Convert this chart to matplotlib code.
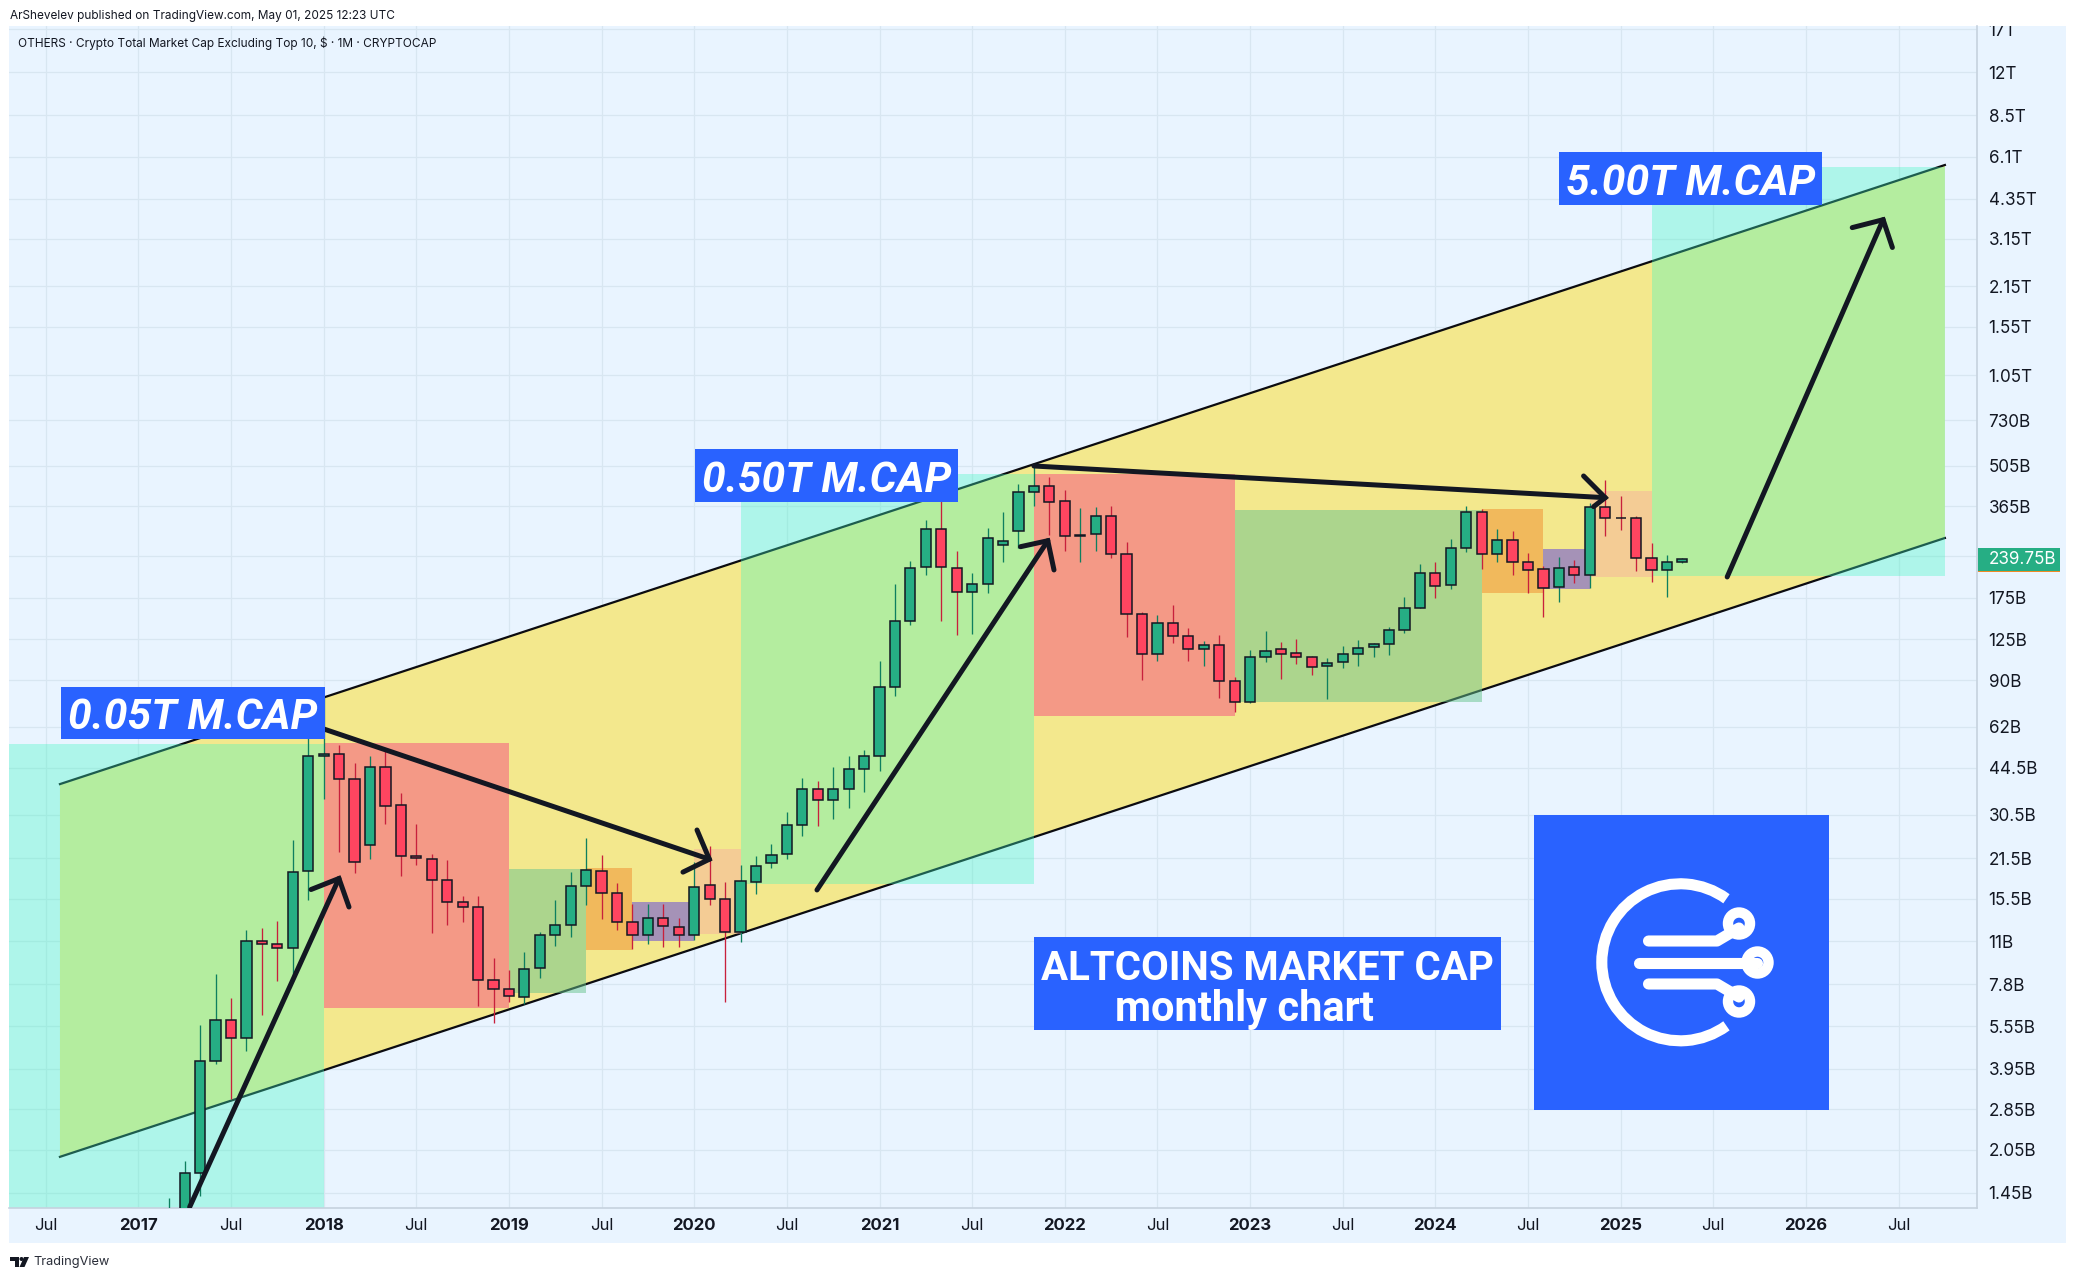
import numpy as np
import matplotlib
matplotlib.use("Agg")
import matplotlib.pyplot as plt
from matplotlib.patches import Rectangle, Arc, Circle, Polygon
from matplotlib.ticker import NullLocator, FixedLocator, FixedFormatter
from matplotlib.transforms import Bbox

# ---------- data (market cap in billions of USD, month index 0 = Jan 2017) ----------
first_month = 2
opens = [1.10,1.27,1.70,4.2,5.83,5.05,11.0,10.8,10.4,19.3,48.8,49.5,40.6,23.8,44.6,32.9,21.9,21.3,18.0,15.1,14.5,8.05,7.47,7.03,8.85,11.6,12.5,17.2,19.3,16.2,12.8,11.6,13.3,12.3,11.6,
         17.3,15.46,11.85,17.8,20.6,22.2,27.97,37.6,34.3,37.4,43.9,48.8,85.05,144.6,223.3,303.3,221.5,182.6,194.8,266.6,298.4,408.4,428.7,380,286.6,291.3,336.8,248,153,111.6,142.3,129,115.4,119.2,89.3,75.3,108.2,115.4,112.5,108.2,100.9,104.2,111.6,117.3,120.1,135.3,160.5,212.8,193.9,260.2,347.7,248,277.5,232.7,219.8,190.2,223.3,209.4,362,332.7,331.8,240.1,218,232.7]
closes = [1.27,1.70,4.2,5.83,5.05,11.0,10.8,10.4,19.2,48.8,49.5,40.6,20.8,44.6,32.7,21.9,21.5,18.0,15.1,14.5,8.05,7.5,7.08,8.77,11.6,12.5,17.2,19.5,16.2,12.8,11.6,13.3,12.4,11.6,17.0,
          15.46,11.85,17.86,20.2,22.0,28.05,37.4,34.3,37.4,44.2,48.8,85.05,144.6,221.5,303.3,223.3,182.6,194.8,282,275,408.4,428.7,376.9,286.6,290.5,336.8,248,153,110.8,142.3,128.1,115.4,119.2,89.3,75.3,108.2,114.3,111.6,108.2,99.96,103.4,111.6,116.4,120.1,135.3,160.5,212.8,191.6,260.2,347.7,248,277.5,232.7,218,188.7,221.5,209.4,362,332.7,331.8,240.1,218,232.7,239.75]
highs = [1.39,1.87,5.62,8.46,6.98,12.0,12.2,13.0,24.9,57.7,78.5,53.5,46.1,48.9,51.9,36.3,28.3,22.2,21.2,15.9,15.9,9.62,8.75,10.1,11.9,15.4,19.2,25.3,22.1,17.6,14.9,14.9,14.9,13.3,20.9,
         23.7,17.7,20.4,21.9,24.0,31.1,40.8,39.95,44.7,48.8,51.2,105,195.3,235.7,327,421.9,254.7,212.8,306.5,348.7,436.8,504.9,460.9,416.3,360,362,366,273.9,155.4,152,164.9,137.2,123.4,129.7,92.4,114.6,134.2,122.4,125,109.5,107.8,118.5,124.4,121.4,138.6,175.4,229.4,233,280.6,366,356.3,304.1,299.7,250.5,225.5,243.5,237.6,373.8,451,395.7,339,271.6,246.3,240.5]
lows = [1.05,1.2,1.42,4.08,3.09,4.54,6.08,8.0,8.33,15.4,34.5,22.6,19.1,21.3,28.3,18.6,20.4,11.8,12.5,12.8,6.55,5.72,6.76,6.65,8.2,10.6,11.4,14.7,13.2,12.0,10.3,10.8,10.5,10.5,11.1,
        14.77,6.75,10.96,16.1,19.8,21.4,25.7,27.9,29.5,32.3,36.6,43.3,79.3,140.4,210,145,129.7,130.5,181.6,233.8,261,367,289.7,254.7,233.8,254.7,241.4,127.4,90.2,105,121.7,105.3,100.9,78.3,69.7,74.8,104,91,102.8,93.9,77.5,99.5,100.9,108.5,110.6,132,160.5,174.8,188,252.5,221,233.8,210.5,181,150,169.3,196.6,189.7,288,301.8,217,199,176,231.9]
last_price = 239.75

# channel (month index, value in $B)
channel_start_month, channel_end_month = -5.08, 117
upper_channel = [39.0, 5698]
lower_channel = [1.94, 282.8]

# zones: month_from, month_to, low, high
teal_zones = [(-9, 12, 1.0, 54.0), (39, 58, 17.5, 473.5), (98, 117, 208.7, 5620)]
red_zones = [(12, 24, 6.43, 54.3), (58, 71, 67.6, 473.5)]
green_zones = [(24, 29, 7.28, 19.7), (71, 87, 75.7, 354.4)]
orange_zones = [(29, 32, 10.27, 19.9), (87, 91, 181.7, 357)]
purple_zones = [(32, 36, 11.05, 15.1), (91, 94, 188, 259)]
peach_zones = [(36, 39, 11.7, 23.1), (94, 98, 207, 413)]

# arrows: shaft start, tip, head end 1, head end 2 as (month, value)
arrows = [
    [(3.32, 1.295), (12.99, 18.24), (11.18, 16.69), (13.64, 14.5)],
    [(12.0, 60.8), (36.98, 21.3), (36.18, 26.95), (35.27, 19.2)],
    [(43.95, 16.63), (58.9, 276.7), (57.13, 263.7), (59.3, 218.7)],
    [(58.0, 505), (95.0, 391.3), (93.6, 466), (94.25, 364)],
    [(102.9, 206.7), (113.0, 3668), (111.0, 3442), (113.6, 2933)],
]

y_tick_values = [17000,12000,8500,6100,4350,3150,2150,1550,1050,730,505,365,245,175,125,90,62,44.5,30.5,21.5,15.5,11,7.8,5.55,3.95,2.85,2.05,1.45]
y_tick_labels = ['17T','12T','8.5T','6.1T','4.35T','3.15T','2.15T','1.55T','1.05T','730B','505B','365B','','175B','125B','90B','62B','44.5B','30.5B','21.5B','15.5B','11B','7.8B','5.55B','3.95B','2.85B','2.05B','1.45B']
x_tick_months = [-6,0,6,12,18,24,30,36,42,48,54,60,66,72,78,84,90,96,102,108,114]
x_tick_labels = ['Jul','2017','Jul','2018','Jul','2019','Jul','2020','Jul','2021','Jul','2022','Jul','2023','Jul','2024','Jul','2025','Jul','2026','Jul']

# ---------- style ----------
W, H = 2075, 1279
BG = '#E9F4FF'
GRID = '#D8E6F1'
TXT = '#131722'
BLUE = '#2962FF'
UP, DOWN = '#26AE84', '#FF4560'
UPW, DOWNW = '#0E7F5F', '#C8203C'
plt.rcParams['font.family'] = ['Inter', 'Roboto', 'DejaVu Sans']

fig = plt.figure(figsize=(W/100, H/100), dpi=100, facecolor='white')
def rect_px(x0, y0, x1, y1):
    return [x0/W, 1-y1/H, (x1-x0)/W, (y1-y0)/H]

bg = fig.add_axes(rect_px(9, 26, 2066, 1243), facecolor=BG, zorder=0)
bg.set_xticks([]); bg.set_yticks([])
for s in bg.spines.values():
    s.set_visible(False)

ax = fig.add_axes(rect_px(9, 26, 1977, 1208), facecolor='none', zorder=2)
ax.set_yscale('log')
ax.set_xlim(-8.38, 119.08)
ax.set_ylim(1.285, 17447)
ax.yaxis.tick_right()
ax.yaxis.set_major_locator(FixedLocator(y_tick_values))
ax.yaxis.set_major_formatter(FixedFormatter(y_tick_labels))
ax.yaxis.set_minor_locator(NullLocator())
ax.set_xticks(x_tick_months)
ax.set_xticklabels(x_tick_labels)
ax.tick_params(axis='both', length=0, colors=TXT)
ax.tick_params(axis='y', labelsize=12.3, pad=8.3)
ax.tick_params(axis='x', labelsize=12, pad=7)
for lab in ax.get_xticklabels():
    if lab.get_text().isdigit():
        lab.set_fontweight('bold')
for lab in ax.get_yticklabels():
    lab.set_ha('left')
    lab.set_clip_on(True)
    lab.set_clip_box(Bbox.from_extents(1978, H-1243, 2066, H-26))
ax.grid(True, color=GRID, lw=0.9, zorder=0)
ax.set_axisbelow(True)
for k in ('top', 'left'):
    ax.spines[k].set_visible(False)
for k in ('right', 'bottom'):
    ax.spines[k].set_color('#C6D2DE')
    ax.spines[k].set_linewidth(1.2)

# channel
ax.add_patch(Polygon([(channel_start_month, upper_channel[0]), (channel_end_month, upper_channel[1]),
                      (channel_end_month, lower_channel[1]), (channel_start_month, lower_channel[0])],
                     closed=True, facecolor='#F3E88D', edgecolor='none', zorder=1))
for ch in (upper_channel, lower_channel):
    ax.plot([channel_start_month, channel_end_month], ch, color='#0B0B10', lw=1.6, zorder=1.5)

def zones(items, color, alpha):
    for m0, m1, lo, hi in items:
        ax.bar(m0, hi-lo, width=m1-m0, bottom=lo, align='edge', color=color, alpha=alpha, lw=0, zorder=2)

zones(teal_zones, (64/255, 247/255, 195/255), 0.35)
zones(red_zones, (245/255, 76/255, 129/255), 0.5)
zones(green_zones, (103/255, 196/255, 141/255), 0.5)
zones(orange_zones, (240/255, 140/255, 45/255), 0.5)
zones(purple_zones, (113/255, 90/255, 212/255), 0.6)
zones(peach_zones, (248/255, 162/255, 163/255), 0.4)

# candles
o = np.array(opens); c = np.array(closes); hi = np.array(highs); lo = np.array(lows)
m = np.arange(first_month, first_month+len(o))
up = c >= o
ax.vlines(m[up], lo[up], hi[up], color=UPW, lw=0.95, zorder=3)
ax.vlines(m[~up], lo[~up], hi[~up], color=DOWNW, lw=0.95, zorder=3)
body_lo = np.minimum(o, c); body_hi = np.maximum(o, c)
ax.bar(m, body_hi-body_lo, bottom=body_lo, width=0.66, color=np.where(up, UP, DOWN),
       edgecolor=TXT, linewidth=1.1, zorder=4)

# arrows
for start, tip, h1, h2 in arrows:
    ax.plot([start[0], tip[0]], [start[1], tip[1]], color=TXT, lw=3.6, solid_capstyle='round', zorder=5)
    ax.plot([h1[0], tip[0], h2[0]], [h1[1], tip[1], h2[1]], color=TXT, lw=3.6,
            solid_capstyle='round', solid_joinstyle='miter', zorder=5)

# ---------- overlay in figure pixels (labels, logo, header) ----------
ov = fig.add_axes([0, 0, 1, 1], facecolor='none', zorder=3)
ov.set_xlim(0, W); ov.set_ylim(H, 0); ov.axis('off')

def box(x0, y0, x1, y1, color=BLUE):
    ov.add_patch(Rectangle((x0, y0), x1-x0, y1-y0, facecolor=color, edgecolor='none'))

title_fam = ['Roboto', 'Liberation Sans']
for (x0, y0, x1, y1, s) in [(61, 686.5, 324.5, 738.5, '0.05T M.CAP'),
                            (695, 449, 958, 502, '0.50T M.CAP'),
                            (1559, 152, 1822, 205, '5.00T M.CAP')]:
    box(x0, y0, x1, y1)
    ov.text((x0+x1)/2, (y0+y1)/2+5, s, color='white', fontsize=30.7, fontweight='bold', fontstyle='italic',
            family=title_fam, ha='center', va='center')

box(1033.5, 937, 1500.6, 1029.5)
ov.text(1267, 969, 'ALTCOINS MARKET CAP', color='white', fontsize=29, fontweight='bold', family=title_fam, ha='center', va='center')
ov.text(1244, 1009, 'monthly chart', color='white', fontsize=30, fontweight='bold', family=title_fam, ha='center', va='center')

# logo
box(1534, 815, 1829, 1110)
cx, cy = 1680.3, 962.3
ov.add_patch(Arc((cx, cy), 157, 157, theta1=54, theta2=306, color='white', lw=8))
lk = dict(color='white', lw=8, solid_capstyle='round', solid_joinstyle='round')
ov.plot([1648.5, 1717, 1739], [941, 941, 928], **lk)
ov.plot([1638.5, 1757], [962.5, 962.5], **lk)
ov.plot([1648.5, 1717, 1739], [984, 984, 997], **lk)
for (px, py) in [(1739, 923.5), (1757.5, 962.5), (1739, 1001.5)]:
    ov.add_patch(Circle((px, py), 11, facecolor=BLUE, edgecolor='white', lw=7.5))

# price tag
box(1977.5, 548, 2060, 571.5, UP)
ov.add_patch(Rectangle((1977.5, 571), 82.5, 1.3, facecolor='#F08A24', edgecolor='none'))
ov.text(1988.5, 560, '239.75B', color='white', fontsize=12.3, ha='left', va='center')

# header, footer
ov.text(10, 15.5, 'ArShevelev published on TradingView.com, May 01, 2025 12:23 UTC', color=TXT, fontsize=8.5, ha='left', va='center')
ov.text(18, 43, 'OTHERS · Crypto Total Market Cap Excluding Top 10, $ · 1M · CRYPTOCAP', color=TXT, fontsize=8.55, ha='left', va='center')
ov.add_patch(Polygon([(10, 1257), (19, 1257), (19, 1267), (15, 1267), (15, 1261), (10, 1261)], facecolor=TXT, edgecolor='none'))
ov.add_patch(Circle((21.5, 1259), 2, facecolor=TXT, edgecolor='none'))
ov.add_patch(Polygon([(24, 1257), (29, 1257), (24.5, 1267), (19.5, 1267)], facecolor=TXT, edgecolor='none'))
ov.text(33.5, 1262, 'TradingView', color='#2A2E39', fontsize=9.2, ha='left', va='center')

fig.savefig('out.png', dpi=100, facecolor='white')
